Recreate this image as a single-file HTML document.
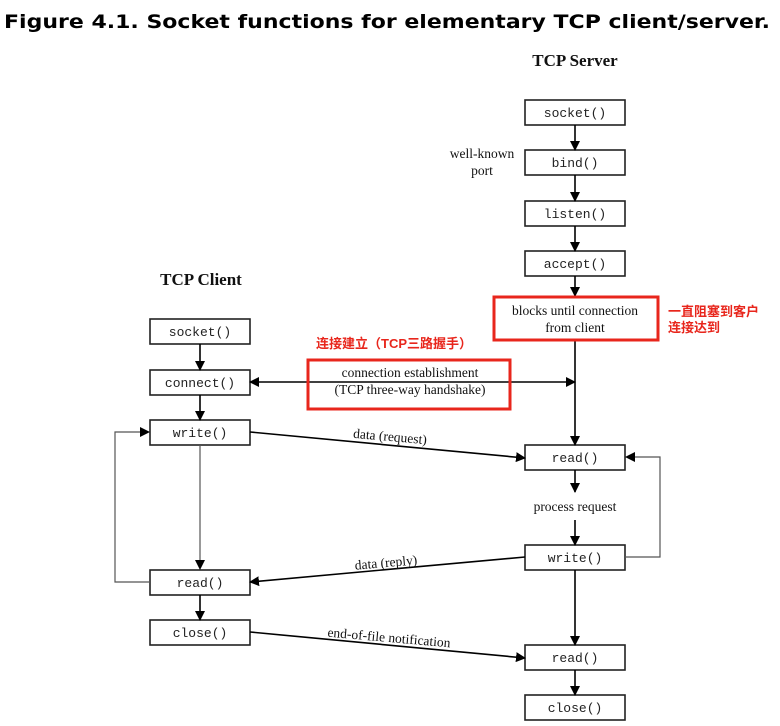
<!DOCTYPE html>
<html><head><meta charset="utf-8"><style>
html,body{margin:0;padding:0;background:#fff;}
svg{display:block;}
.m{font-family:"Liberation Mono",monospace;font-size:13px;fill:#222;}
.s{font-family:"Liberation Serif",serif;font-size:13.5px;fill:#111;}
.r{font-family:"Liberation Sans","Noto Sans CJK SC",sans-serif;font-size:13px;fill:#e8261c;font-weight:bold;}
</style></head><body>
<svg width="780" height="726" viewBox="0 0 780 726" xmlns="http://www.w3.org/2000/svg">
<defs>
<marker id="a" markerWidth="10" markerHeight="10" refX="9" refY="5" orient="auto" markerUnits="userSpaceOnUse">
<path d="M0,0 L10,5 L0,10 z" fill="#000"/></marker>
</defs>
<text x="4" y="28" font-family="DejaVu Sans,sans-serif" font-weight="bold" font-size="19" textLength="766" lengthAdjust="spacingAndGlyphs" fill="#000">Figure 4.1. Socket functions for elementary TCP client/server.</text>
<text x="575" y="66" text-anchor="middle" font-family="Liberation Serif,serif" font-weight="bold" font-size="17" fill="#111">TCP Server</text>
<text x="201" y="285" text-anchor="middle" font-family="Liberation Serif,serif" font-weight="bold" font-size="17" fill="#111">TCP Client</text>
<g fill="#fff" stroke="#222" stroke-width="1.6">
<rect x="525" y="100" width="100" height="25"/>
<rect x="525" y="150" width="100" height="25"/>
<rect x="525" y="201" width="100" height="25"/>
<rect x="525" y="251" width="100" height="25"/>
<rect x="525" y="445" width="100" height="25"/>
<rect x="525" y="545" width="100" height="25"/>
<rect x="525" y="645" width="100" height="25"/>
<rect x="525" y="695" width="100" height="25"/>
<rect x="150" y="319" width="100" height="25"/>
<rect x="150" y="370" width="100" height="25"/>
<rect x="150" y="420" width="100" height="25"/>
<rect x="150" y="570" width="100" height="25"/>
<rect x="150" y="620" width="100" height="25"/>
</g>
<g class="m" text-anchor="middle">
<text x="575" y="117">socket()</text>
<text x="575" y="167">bind()</text>
<text x="575" y="218">listen()</text>
<text x="575" y="268">accept()</text>
<text x="575" y="462">read()</text>
<text x="575" y="562">write()</text>
<text x="575" y="662">read()</text>
<text x="575" y="712">close()</text>
<text x="200" y="336">socket()</text>
<text x="200" y="387">connect()</text>
<text x="200" y="437">write()</text>
<text x="200" y="587">read()</text>
<text x="200" y="637">close()</text>
</g>
<g stroke="#000" stroke-width="1.6" fill="none" marker-end="url(#a)">
<line x1="575" y1="125" x2="575" y2="150"/>
<line x1="575" y1="175" x2="575" y2="201"/>
<line x1="575" y1="226" x2="575" y2="251"/>
<line x1="575" y1="276" x2="575" y2="296"/>
<line x1="575" y1="340" x2="575" y2="445"/>
<line x1="575" y1="470" x2="575" y2="492"/>
<line x1="575" y1="520" x2="575" y2="545"/>
<line x1="575" y1="570" x2="575" y2="645"/>
<line x1="575" y1="670" x2="575" y2="695"/>
<line x1="200" y1="344" x2="200" y2="370"/>
<line x1="200" y1="395" x2="200" y2="420"/>
<line x1="200" y1="595" x2="200" y2="620"/>
<line x1="300" y1="382" x2="250" y2="382"/>
<line x1="300" y1="382" x2="575" y2="382"/>
<line x1="250" y1="432" x2="525" y2="458"/>
<line x1="525" y1="557" x2="250" y2="582"/>
<line x1="250" y1="632" x2="525" y2="658"/>
</g>
<g stroke="#555" stroke-width="1.2" fill="none">
<line x1="200" y1="445" x2="200" y2="562"/>
<polyline points="150,582 115,582 115,432 140,432"/>
<polyline points="625,557 660,557 660,457 635,457"/>
</g>
<g fill="#000">
<path d="M195,560 L205,560 L200,570 z"/>
<path d="M140,427 L150,432 L140,437 z"/>
<path d="M635,452 L625,457 L635,462 z"/>
</g>
<g class="s" text-anchor="middle">
<text x="482" y="158">well-known</text>
<text x="482" y="175">port</text>
<text x="575" y="315">blocks until connection</text>
<text x="575" y="332">from client</text>
<text x="410" y="377">connection establishment</text>
<text x="410" y="394">(TCP three-way handshake)</text>
<text x="575" y="511">process request</text>
<text x="390" y="441" transform="rotate(5 390 437)">data (request)</text>
<text x="386" y="567" transform="rotate(-5 386 563)">data (reply)</text>
<text x="389" y="642" transform="rotate(5 389 638)">end-of-file notification</text>
</g>
<g fill="none" stroke="#e8261c" stroke-width="3">
<rect x="494" y="297" width="164" height="43"/>
<rect x="308" y="360" width="202" height="49"/>
</g>
<text class="r" x="316" y="348">连接建立（TCP三路握手）</text>
<text class="r" x="668" y="316">一直阻塞到客户</text>
<text class="r" x="668" y="332">连接达到</text>
</svg>
</body></html>
